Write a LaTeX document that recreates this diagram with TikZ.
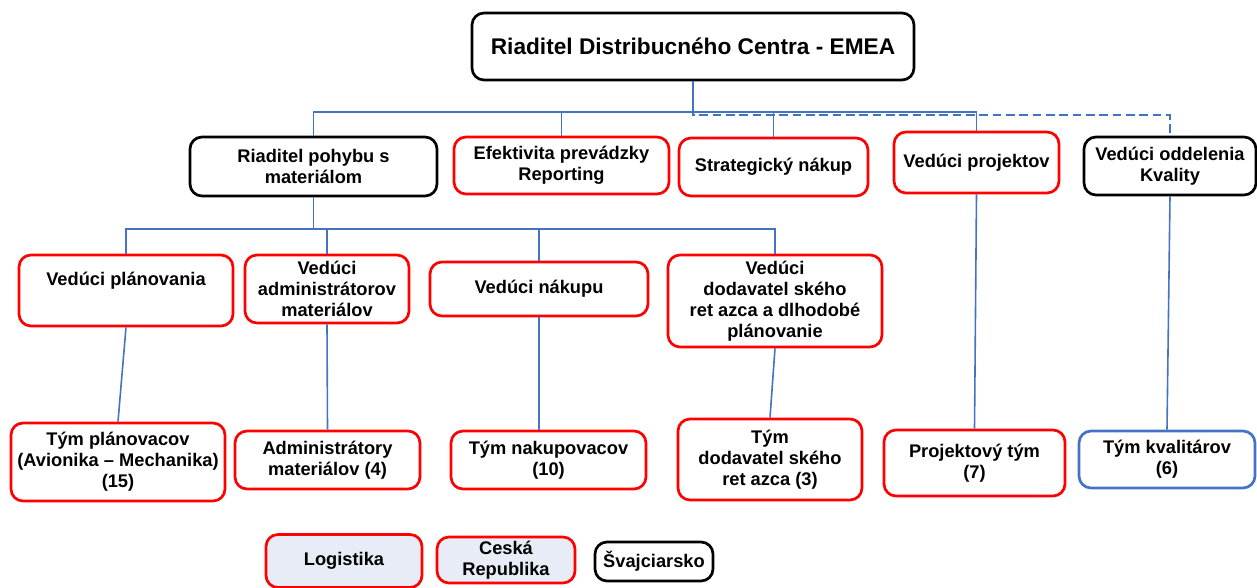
\documentclass[tikz,border=0pt]{standalone}
\usepackage{fontspec}
\setmainfont{Liberation Sans}
\usepackage{tikz}
\definecolor{lineblue}{HTML}{4472C4}
\definecolor{legfill}{HTML}{E7ECF6}

\begin{document}
\begin{tikzpicture}[x=0.75pt,y=0.75pt,yscale=-1,xscale=1,
  box/.style={rounded corners=9pt,line width=2pt,align=center,inner sep=1pt,
    font=\bfseries\fontsize{13.7}{15.8}\selectfont},
  redbox/.style={box,draw=red},
  blackbox/.style={box,draw=black},
  bluebox/.style={box,draw=lineblue},
  conn/.style={draw=lineblue,line width=1.2pt},
  dashconn/.style={draw=lineblue,line width=2.2pt,dash pattern=on 6.5pt off 3.5pt}]
\useasboundingbox (0,0) rectangle (1257,588);

%Shape: Rounded Rect -- top
\node[blackbox,minimum width=331.5pt,minimum height=50.25pt,font=\bfseries\fontsize{17}{20}\selectfont] (ceo) at (693,46.5) {Riaditel Distribucného Centra - EMEA};

%Shape: Rounded Rect -- second row
\node[blackbox,minimum width=185.25pt,minimum height=44.25pt] (pohyb) at (313.5,166.5) {Riaditel pohybu s\\materiálom};
\node[redbox,minimum width=161.25pt,minimum height=42.75pt] (efekt) at (561.5,165.5) {Efektivita prevádzky\\Reporting};
\node[redbox,minimum width=141.75pt,minimum height=43.5pt] (strat) at (773.5,167) {Strategický nákup};
\node[redbox,minimum width=123.75pt,minimum height=45.75pt] (projekt) at (976.5,162.5) {Vedúci projektov};
\node[blackbox,minimum width=129pt,minimum height=43.5pt] (kvalita) at (1170,166) {Vedúci oddelenia\\Kvality};

%Shape: Rounded Rect -- third row
\node[redbox,minimum width=160.5pt,minimum height=53.25pt] (plan) at (126,290.5) {\raisebox{3.5pt}[0pt][0pt]{Vedúci plánovania}};
\node[redbox,minimum width=123pt,minimum height=51pt] (admin) at (327,289) {Vedúci\\administrátorov\\materiálov};
\node[redbox,minimum width=163.5pt,minimum height=40.5pt] (nakup) at (539,289) {Vedúci nákupu};
\node[redbox,minimum width=160.5pt,minimum height=69pt] (dodav) at (775,301) {Vedúci\\dodavatel ského\\ret azca a dlhodobé\\plánovanie};

%Shape: Rounded Rect -- teams
\node[redbox,minimum width=160.5pt,minimum height=58.5pt] (planteam) at (118,462) {Tým plánovacov\\(Avionika – Mechanika)\\(15)};
\node[redbox,minimum width=138.75pt,minimum height=43.5pt] (adminteam) at (327.5,460) {Administrátory\\materiálov (4)};
\node[redbox,minimum width=146.25pt,minimum height=43.5pt] (nakupteam) at (548.5,460) {Tým nakupovacov\\(10)};
\node[redbox,minimum width=138pt,minimum height=60.75pt] (dodavteam) at (770,459.5) {Tým\\dodavatel ského\\ret azca (3)};
\node[redbox,minimum width=135.75pt,minimum height=49.5pt] (projteam) at (974.5,463) {Projektový tým\\(7)};
\node[bluebox,minimum width=132pt,minimum height=42.75pt] (kvalteam) at (1167,459.5) {Tým kvalitárov\\(6)};

%Shape: Rounded Rect -- legend
\node[redbox,fill=legfill,minimum width=117pt,minimum height=39.75pt] (leglog) at (344,561) {\raisebox{-1.5pt}{Logistika}};
\node[redbox,fill=legfill,minimum width=103.5pt,minimum height=34.5pt] (legcz) at (506,560) {Ceská\\Republika};
\node[blackbox,minimum width=88.5pt,minimum height=29.25pt] (legch) at (654,561.5) {Švajciarsko};

%Straight Lines
\coordinate (bus1) at (693,112);
\coordinate (bus1d) at (693,115);
\coordinate (bus2) at (313.5,229);
\draw[conn] (ceo.south) -- (bus1);
\draw[conn] (pohyb.north) |- (bus1) -| (projekt.north);
\draw[conn] (efekt.north) -- (efekt.north |- bus1);
\draw[conn] (strat.north) -- (strat.north |- bus1);
\draw[dashconn] (ceo.south) -- (bus1d) -| (kvalita.north);

\draw[conn] (pohyb.south) -- (bus2);
\draw[conn] (plan.north) |- (bus2) -| (dodav.north);
\draw[conn] (admin.north) -- (admin.north |- bus2);
\draw[conn] (nakup.north) -- (nakup.north |- bus2);

\draw[conn] (plan.south) -- (planteam.north);
\draw[conn] (admin.south) -- (adminteam.north);
\draw[conn] (nakup.south) -- (nakup.south |- nakupteam.north);
\draw[conn] (dodav.south) -- (dodavteam.north);
\draw[conn] (projekt.south) -- (projteam.north);
\draw[conn] (kvalita.south) -- (kvalteam.north);

\end{tikzpicture}
\end{document}
